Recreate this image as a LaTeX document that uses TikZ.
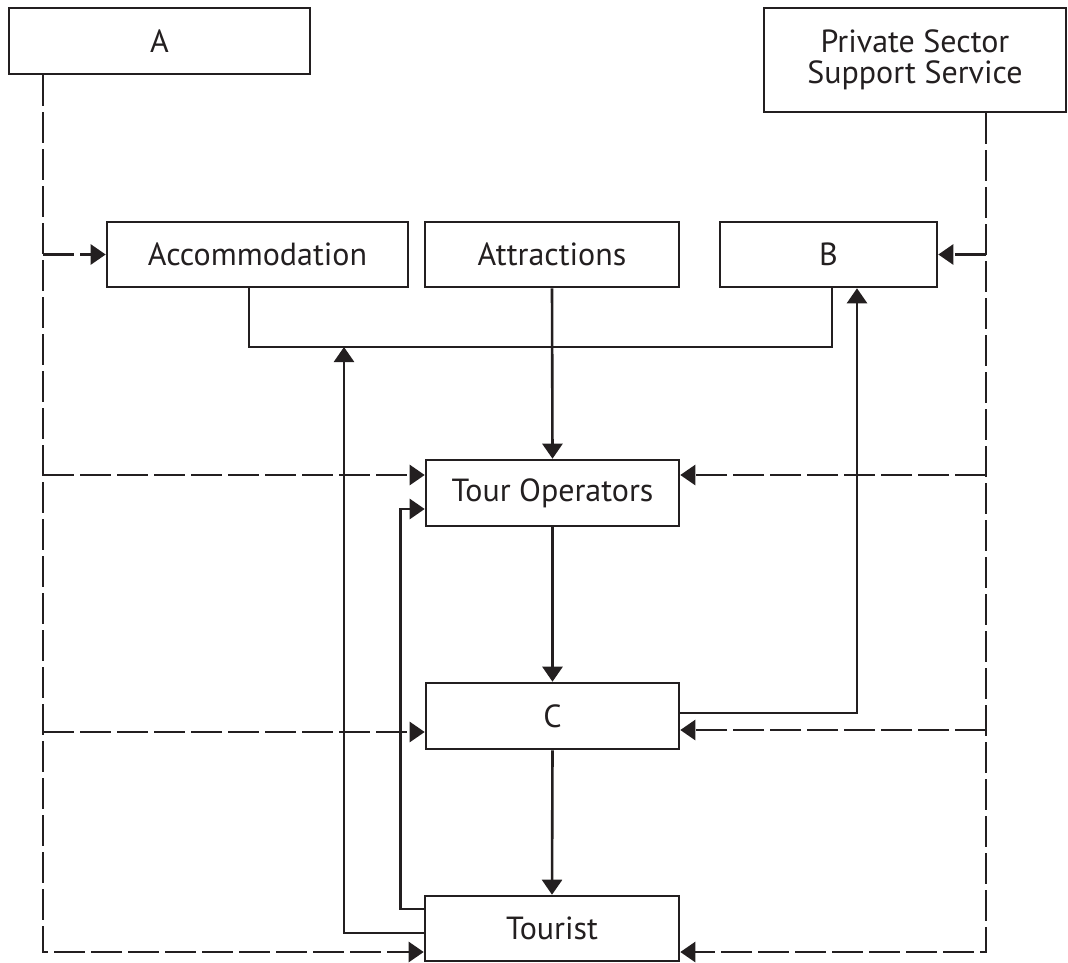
\documentclass[tikz,border=0pt]{standalone}
\usepackage{fontspec}
\setmainfont{PT Sans}
\usetikzlibrary{arrows.meta}
\definecolor{ink}{RGB}{35,31,32}
\begin{document}
\begin{tikzpicture}[x=1pt,y=-1pt,
  box/.style={draw=ink,line width=2.6pt,inner sep=0pt,text=ink,
    font=\fontsize{32}{31}\selectfont,align=center},
  conn/.style={draw=ink,line width=2.6pt},
  arr/.style={conn,-{Triangle[length=15pt,width=20pt]}},
  dsh/.style={draw=ink,line width=2.6pt,dash pattern=on 31pt off 6pt},
  darr/.style={dsh,-{Triangle[length=15pt,width=20pt]}}]
\useasboundingbox (0,0) rectangle (1068,962);
% boxes
\node[box,minimum width=301pt,minimum height=66pt] (A) at (159.5,41) {A};
\node[box,minimum width=302pt,minimum height=104pt] (PSS) at (915,60) {Private Sector\\Support Service};
\node[box,minimum width=301pt,minimum height=65pt] (Acc) at (257.5,254.5) {Accommodation};
\node[box,minimum width=254pt,minimum height=65pt] (Attr) at (552,254.5) {Attractions};
\node[box,minimum width=217pt,minimum height=65pt] (B) at (828.5,254.5) {B};
\node[box,minimum width=253pt,minimum height=66pt] (TO) at (552.5,493) {Tour Operators};
\node[box,minimum width=253pt,minimum height=66pt] (C) at (552.5,716) {C};
\node[box,minimum width=254pt,minimum height=65pt] (T) at (552,928.5) {Tourist};
% helper coordinates
\coordinate (L) at (43,0);
\coordinate (R) at (986,0);
\coordinate (toL) at ([yshift=18pt]TO.west);
\coordinate (toR) at ([yshift=18pt]TO.east);
\coordinate (toIn) at ([yshift=-16pt]TO.west);
\coordinate (cL) at ([yshift=-16pt]C.west);
\coordinate (cR) at ([yshift=-14pt]C.east);
\coordinate (cOut) at ([yshift=3pt]C.east);
\coordinate (tL) at ([yshift=-23.5pt]T.west);
\coordinate (tR) at ([yshift=-23.5pt]T.east);
\coordinate (tU) at ([yshift=19.5pt]T.west);
\coordinate (tD) at ([yshift=-4.5pt]T.west);
\coordinate (accS) at ([xshift=-8.5pt]Acc.south);
\coordinate (bS) at ([xshift=3.5pt]B.south);
\coordinate (bIn) at ([xshift=28.5pt]B.south);
\coordinate (bus) at (549,347);
\coordinate (busIn) at (344,347);
% dashed trunks and branches
\draw[darr] (L |- A.south) |- (tL);
\draw[darr] (L |- Acc.west) -- (Acc.west);
\draw[darr] (L |- toL) -- (toL);
\draw[darr] (L |- cL) -- (cL);
\draw[darr] (R |- PSS.south) |- (tR);
\draw[darr] (R |- B.east) -- (B.east);
\draw[darr] (R |- toR) -- (toR);
\draw[darr] (R |- cR) -- (cR);
% solid connectors
\draw[conn] (accS) |- (bus) -| (bS);
\draw[arr] (Attr.south) -- (TO.north);
\draw[arr] (TO.south) -- (C.north);
\draw[arr] (C.south) -- (T.north);
\draw[arr] (cOut) -| (bIn);
\draw[arr] (tU) -- ++(-23pt,0) |- (toIn);
\draw[arr] (tD) -| (busIn);
\end{tikzpicture}
\end{document}
